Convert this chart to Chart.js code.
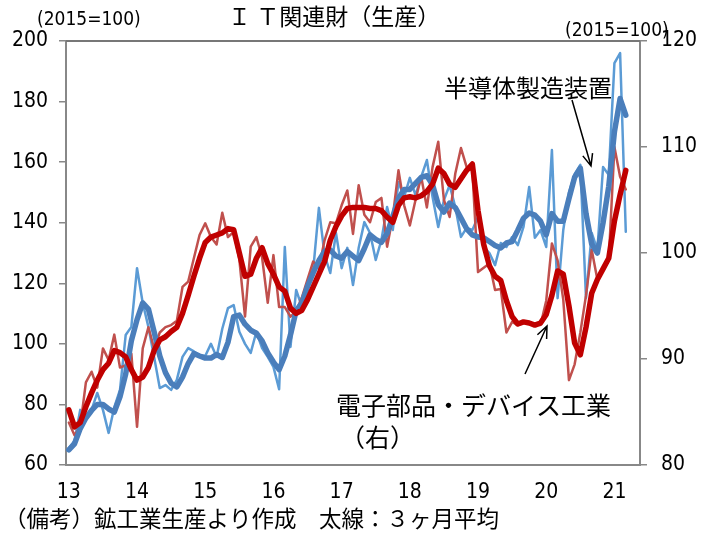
<!DOCTYPE html>
<html>
<head>
<meta charset="utf-8">
<script src="https://cdn.jsdelivr.net/npm/chart.js@4.4.1/dist/chart.umd.min.js"></script>
<style>
  body { margin: 0; background: #fff; }
  canvas { display: block; }
</style>
</head>
<body>
<canvas id="itChart" width="704" height="534"></canvas>
<script>
// year tick labels, one per January
const years = ['13', '14', '15', '16', '17', '18', '19', '20', '21'];

// 半導体製造装置 (left axis, 2015=100), monthly Jan 2013 - Mar 2021
const semiMonthly = [
  65.6, 68.0, 78.2, 75.0, 78.2, 83.8, 78.2, 70.6, 79.1, 84.8, 102.9, 105.6,
  125.0, 113.5, 105.6, 95.7, 85.4, 86.4, 84.8, 88.1, 95.7, 98.6, 97.5, 96.3,
  96.0, 100.0, 95.7, 105.0, 111.8, 112.8, 104.0, 100.0, 97.0, 104.0, 98.6, 95.7,
  92.4, 85.0, 132.0, 99.0, 117.8, 112.2, 120.4, 124.4, 144.9, 129.3, 123.4, 136.6,
  125.0, 131.7, 119.4, 131.7, 140.2, 136.6, 127.7, 134.3, 145.2, 137.6, 153.4, 148.5,
  154.8, 149.1, 155.1, 160.7, 148.5, 138.6, 147.5, 152.4, 145.2, 135.3, 138.3, 137.6,
  141.9, 132.0, 130.0, 126.0, 133.3, 132.0, 135.3, 132.6, 138.6, 151.8, 135.0, 137.6,
  132.0, 164.0, 115.1, 137.6, 150.0, 156.0, 159.1, 115.1, 136.6, 131.0, 158.4, 155.8,
  192.7, 196.0, 137.0
];
// 3ヶ月平均 (thick line)
const semiAvg3 = [
  65.0, 67.0, 72.0, 75.5, 78.0, 80.0, 80.0, 78.5, 77.5, 82.5, 90.0, 101.0,
  108.0, 113.5, 111.5, 104.0, 96.0, 90.5, 87.0, 85.8, 89.0, 93.5, 96.8, 96.0,
  95.3, 95.3, 96.5, 95.5, 100.5, 109.0, 109.5, 106.5, 104.5, 103.5, 101.0, 97.0,
  94.0, 91.5, 96.0, 103.0, 111.0, 113.5, 119.0, 123.5, 127.5, 130.5, 131.0, 129.0,
  128.3, 130.5, 129.0, 127.5, 131.5, 136.0, 134.5, 133.5, 136.5, 142.0, 148.0, 151.0,
  151.0, 153.0, 155.0, 155.5, 152.5, 146.0, 143.5, 146.5, 145.0, 141.5, 138.0, 136.0,
  135.3, 135.0, 133.8, 132.5, 131.7, 133.3, 133.8, 137.5, 141.5, 143.2, 142.5, 140.5,
  136.0, 143.0, 140.5, 140.5, 148.0, 155.0, 158.0, 143.0, 133.0, 130.0, 140.0, 152.0,
  170.0, 181.0, 175.5
];

// 電子部品・デバイス工業 (right axis, 2015=100)
const elecMonthly = [
  84.0, 82.8, 83.6, 87.8, 88.8, 87.3, 91.0, 89.9, 92.3, 89.2, 89.4, 90.5,
  83.6, 91.0, 93.0, 91.0, 92.5, 93.0, 93.2, 93.6, 96.8, 97.3, 99.5, 101.7,
  102.8, 101.5, 100.8, 103.8, 101.5, 102.0, 99.4, 94.0, 100.6, 101.5, 99.6, 95.3,
  99.8, 94.9, 94.9, 94.0, 94.5, 95.8, 97.5, 99.2, 98.6, 101.2, 102.9, 102.8,
  104.5, 105.9, 101.8, 106.4, 103.6, 102.9, 104.8, 105.2, 100.6, 103.4, 107.8, 104.5,
  102.6, 105.0, 107.2, 104.3, 108.1, 110.5, 105.0, 103.4, 107.5, 109.9, 108.1, 107.8,
  98.2, 98.6, 99.0, 96.5, 96.6, 92.5, 93.5, 93.2, 93.4, 93.4, 93.2, 93.2,
  95.5, 100.9, 99.3, 95.6, 88.0, 89.5, 92.5, 96.0, 100.3, 97.5, 98.4, 99.3,
  110.0, 107.2, 106.0
];
const elecAvg3 = [
  85.2, 83.6, 84.0, 85.5, 86.8, 88.0, 89.0, 89.6, 90.8, 90.6, 90.2, 89.0,
  88.0, 88.3, 89.2, 90.8, 91.8, 92.1, 92.6, 93.0, 94.3, 96.0, 97.8, 99.5,
  101.0, 101.5, 101.7, 101.9, 102.3, 102.2, 100.0, 97.8, 98.0, 99.5, 100.5, 99.0,
  98.0, 96.8, 96.4, 94.8, 94.3, 94.6, 95.6, 96.8, 98.0, 99.2, 101.2, 102.5,
  103.5, 104.2, 104.3, 104.3, 104.3, 104.2, 104.2, 104.0, 103.4, 102.9, 104.5, 105.2,
  105.3, 105.2, 105.4, 105.8, 106.5, 108.0, 107.5, 106.5, 106.2, 107.0, 107.8, 108.4,
  104.0, 100.8, 98.8, 97.8, 97.4, 95.5, 94.0, 93.3, 93.5, 93.4, 93.2, 93.4,
  94.2, 96.0, 98.3, 98.0, 95.0, 91.5, 90.4, 93.0, 96.2, 97.5, 98.5, 99.5,
  103.0, 105.5, 107.8
];

// monthly categories, axis runs a little past the last data point
const months = [];
years.forEach(y => {
  for (let m = 1; m <= 12; m++) months.push(y + '/' + m);
});
months.length = 101;

const JP = '"Noto Sans CJK JP", sans-serif';
const NUM = '"Liberation Sans Narrow", "DejaVu Sans Condensed", sans-serif';

const arrow = (ctx, x1, y1, x2, y2) => {
  const a = Math.atan2(y2 - y1, x2 - x1);
  const h = 13;
  ctx.beginPath();
  ctx.moveTo(x1, y1);
  ctx.lineTo(x2, y2);
  ctx.moveTo(x2 - h * Math.cos(a - 0.4), y2 - h * Math.sin(a - 0.4));
  ctx.lineTo(x2, y2);
  ctx.lineTo(x2 - h * Math.cos(a + 0.4), y2 - h * Math.sin(a + 0.4));
  ctx.stroke();
};

const textPlugin = {
  id: 'texts',
  afterDraw(chart) {
    const ctx = chart.ctx;
    const area = chart.chartArea;
    ctx.save();
    // top border of plot
    ctx.strokeStyle = '#777';
    ctx.lineWidth = 2;
    ctx.beginPath();
    ctx.moveTo(area.left, area.top);
    ctx.lineTo(area.right, area.top);
    ctx.stroke();

    ctx.fillStyle = '#000';
    ctx.textBaseline = 'middle';
    ctx.textAlign = 'left';
    ctx.font = '23px ' + JP;
    ctx.fillText('Ｉ Ｔ関連財（生産）', 228, 16);

    ctx.font = '19px ' + NUM;
    ctx.fillText('(2015=100)', 37, 20);
    ctx.fillText('(2015=100)', 565, 31);

    ctx.font = '24px ' + JP;
    ctx.fillText('半導体製造装置', 444, 88);
    ctx.font = '25px ' + JP;
    ctx.fillText('電子部品・デバイス工業', 336, 405);
    ctx.fillText('（右）', 340, 437);

    ctx.font = '22.5px ' + JP;
    ctx.fillText('（備考）鉱工業生産より作成　太線：３ヶ月平均', 4, 518);

    ctx.strokeStyle = '#000';
    ctx.lineWidth = 1.5;
    arrow(ctx, 572, 100, 591, 166);
    arrow(ctx, 525, 374, 547, 326);
    ctx.restore();
  }
};

new Chart(document.getElementById('itChart'), {
  type: 'line',
  data: {
    labels: months,
    datasets: [{
      label: '電子部品・デバイス工業 3ヶ月平均',
      data: elecAvg3,
      yAxisID: 'yR',
      borderColor: '#c00000',
      borderWidth: 5.5,
      order: 0
    }, {
      label: '半導体製造装置 3ヶ月平均',
      data: semiAvg3,
      yAxisID: 'yL',
      borderColor: '#4a7ebb',
      borderWidth: 5.5,
      order: 1
    }, {
      label: '電子部品・デバイス工業',
      data: elecMonthly,
      yAxisID: 'yR',
      borderColor: '#c0504d',
      borderWidth: 2.5,
      order: 2
    }, {
      label: '半導体製造装置',
      data: semiMonthly,
      yAxisID: 'yL',
      borderColor: '#5b9bd5',
      borderWidth: 2.5,
      order: 3
    }]
  },
  options: {
    responsive: false,
    animation: false,
    events: [],
    layout: { padding: { top: 41, left: 0, right: 0, bottom: 0 } },
    elements: {
      point: { radius: 0 },
      line: { tension: 0, borderJoinStyle: 'round', borderCapStyle: 'round' }
    },
    plugins: {
      legend: { display: false },
      tooltip: { enabled: false },
      title: { display: false }
    },
    scales: {
      x: {
        offset: true,
        grid: { display: false, drawTicks: false },
        border: { display: true, color: '#888', width: 2 },
        ticks: {
          autoSkip: false,
          maxRotation: 0,
          padding: 15,
          color: '#000',
          font: { family: NUM, size: 21 },
          callback: (v, i) => (i % 12 === 0 ? years[i / 12] : '')
        },
        afterFit: s => { s.height = 69; }
      },
      yL: {
        position: 'left',
        min: 60,
        max: 200,
        ticks: { stepSize: 20, padding: 11, color: '#000', font: { family: NUM, size: 21 } },
        grid: { drawOnChartArea: false, drawTicks: true, tickLength: 7, color: '#888', lineWidth: 1.5 },
        border: { display: true, color: '#888', width: 2 },
        afterFit: s => { s.width = 66; }
      },
      yR: {
        position: 'right',
        min: 80,
        max: 120,
        ticks: { stepSize: 10, padding: 14, color: '#000', font: { family: NUM, size: 21 } },
        grid: { drawOnChartArea: false, drawTicks: true, tickLength: 7, color: '#888', lineWidth: 1.5 },
        border: { display: true, color: '#888', width: 2 },
        afterFit: s => { s.width = 64; }
      }
    }
  },
  plugins: [textPlugin]
});
</script>
</body>
</html>
